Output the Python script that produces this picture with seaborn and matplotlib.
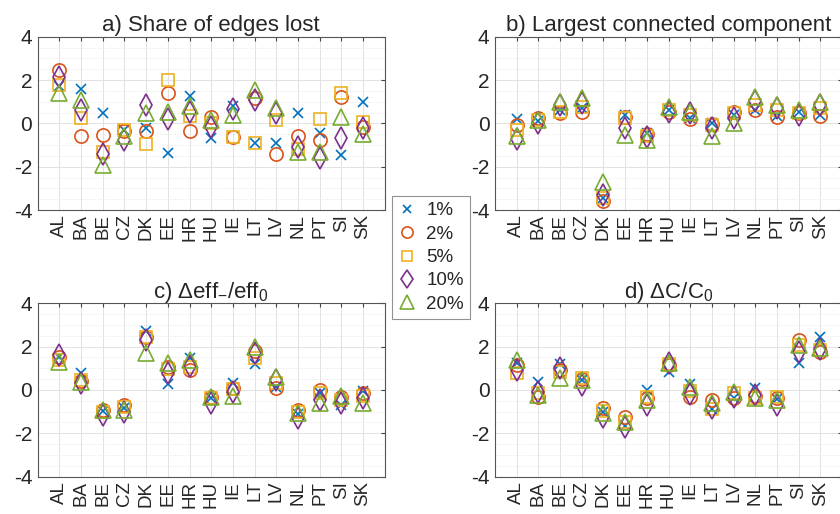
import numpy as np
import pandas as pd
import matplotlib
matplotlib.use("Agg")
import matplotlib.pyplot as plt
from matplotlib.ticker import MultipleLocator
import seaborn as sns

countries = ["AL", "BA", "BE", "CZ", "DK", "EE", "HR", "HU", "IE", "LT", "LV", "NL", "PT", "SI", "SK"]
levels = ["1%", "2%", "5%", "10%", "20%"]

# a) Share of edges lost
edges_1 = [1.72, 1.6, 0.49, -0.3, -0.23, -1.38, 1.26, -0.66, 0.8, -0.9, -0.92, 0.49, -0.43, -1.46, 1.0]
edges_2 = [2.46, -0.58, -0.54, -0.35, -0.35, 1.38, -0.35, 0.28, -0.62, 1.15, -1.43, -0.58, -0.77, 1.23, -0.18]
edges_5 = [1.77, 0.23, -1.3, -0.3, -0.97, 2.0, 0.34, 0.03, -0.65, -0.9, 0.15, -1.2, 0.18, 1.38, 0.08]
edges_10 = [2.15, 0.62, -1.42, -0.77, 0.85, 0.18, 0.54, -0.15, 0.65, 1.08, 0.46, -1.1, -1.62, -0.69, -0.23]
edges_20 = [1.38, 1.08, -1.92, -0.58, 0.49, 0.54, 0.8, 0.15, 0.38, 1.54, 0.69, -1.3, -1.3, 0.28, -0.49]

# b) Largest connected component
lcc_1 = [0.18, 0.12, 0.6, 0.69, -3.46, 0.38, -0.46, 0.6, 0.23, 0.0, 0.38, 0.6, 0.34, 0.54, 0.38]
lcc_2 = [-0.08, 0.23, 0.46, 0.54, -3.6, 0.3, -0.49, 0.54, 0.18, -0.03, 0.54, 0.6, 0.28, 0.49, 0.34]
lcc_5 = [-0.3, 0.15, 0.54, 0.77, -3.46, 0.23, -0.58, 0.6, 0.38, -0.08, 0.46, 0.85, 0.6, 0.49, 0.69]
lcc_10 = [-0.7, 0.0, 0.85, 0.95, -3.3, -0.23, -0.62, 0.54, 0.46, -0.23, 0.23, 1.05, 0.69, 0.38, 0.85]
lcc_20 = [-0.58, 0.15, 1.0, 1.15, -2.7, -0.54, -0.77, 0.77, 0.54, -0.58, 0.03, 1.23, 0.85, 0.6, 1.0]

# c) delta eff / eff0
eff_1 = [1.54, 0.8, -0.95, -0.85, 2.74, 0.28, 1.46, -0.38, 0.31, 1.2, 0.15, -1.1, -0.15, -0.69, -0.05]
eff_2 = [1.54, 0.43, -0.92, -0.69, 2.46, 1.05, 0.92, -0.31, 0.08, 1.82, 0.08, -0.92, 0.0, -0.31, -0.15]
eff_5 = [1.38, 0.46, -1.0, -0.77, 2.46, 0.95, 1.08, -0.38, 0.03, 1.46, 0.31, -1.0, -0.12, -0.46, -0.28]
eff_10 = [1.62, 0.31, -1.15, -1.0, 2.3, 0.8, 1.1, -0.62, -0.08, 1.69, 0.46, -1.3, -0.46, -0.62, -0.38]
eff_20 = [1.3, 0.38, -0.92, -0.92, 1.69, 1.23, 1.38, -0.31, -0.28, 1.97, 0.58, -1.05, -0.58, -0.28, -0.62]

# d) delta C / C0
clu_1 = [1.23, 0.38, 1.2, 0.46, -1.0, -1.66, 0.0, 0.85, 0.28, -0.9, -0.38, 0.08, -0.43, 1.23, 2.46]
clu_2 = [1.15, -0.31, 0.92, 0.49, -0.85, -1.26, -0.38, 1.15, -0.31, -0.46, -0.38, -0.28, -0.38, 2.3, 1.77]
clu_5 = [0.77, -0.15, 0.85, 0.54, -0.95, -1.46, -0.34, 1.2, -0.03, -0.9, -0.15, -0.38, -0.31, 2.08, 1.85]
clu_10 = [0.92, -0.08, 1.0, 0.23, -1.23, -1.69, -0.69, 1.23, -0.18, -0.85, -0.31, -0.23, -0.69, 1.77, 1.88]
clu_20 = [1.38, -0.23, 0.54, 0.46, -1.05, -1.5, -0.46, 1.26, 0.15, -0.62, -0.08, -0.38, -0.46, 2.08, 1.92]

titles = ["a) Share of edges lost", "b) Largest connected component",
          r"c) $\Delta$eff$_{-}$/eff$_{0}$", r"d) $\Delta$C/C$_{0}$"]
panels = [[edges_1, edges_2, edges_5, edges_10, edges_20],
          [lcc_1, lcc_2, lcc_5, lcc_10, lcc_20],
          [eff_1, eff_2, eff_5, eff_10, eff_20],
          [clu_1, clu_2, clu_5, clu_10, clu_20]]

colors = ["#0072BD", "#D95319", "#EDB120", "#7E2F8E", "#77AC30"]
markers = ["x", "o", "s", "d", "^"]
msizes = [7.5, 9.5, 8.5, 11, 11.5]

sns.set_style("white")
plt.rcParams["font.family"] = ["Liberation Sans", "DejaVu Sans"]
plt.rcParams["mathtext.fontset"] = "custom"
plt.rcParams["mathtext.rm"] = "Liberation Sans"
plt.rcParams["mathtext.it"] = "Liberation Sans"
plt.rcParams["axes.unicode_minus"] = False

fig = plt.figure(figsize=(8.4, 5.14), dpi=100)
W, H = 840.0, 514.0
boxes = [(37.7, 36.7), (495, 36.7), (37.7, 303.3), (495, 303.3)]
aw, ah = 347.0, 173.3

handles = []
for k, (series, title) in enumerate(zip(panels, titles)):
    x0, y0 = boxes[k]
    ax = fig.add_axes([x0 / W, 1 - (y0 + ah) / H, aw / W, ah / H])
    for j, vals in enumerate(series):
        df = pd.DataFrame({"country": countries, "value": vals})
        kw = dict(markersize=msizes[j], markeredgewidth=1.2)
        if markers[j] != "x":
            kw["markerfacecolor"] = "none"
        sns.pointplot(data=df, x="country", y="value", order=countries,
                      color=colors[j], markers=markers[j], linestyles="none",
                      errorbar=None, ax=ax, **kw)
        if k == 0:
            handles.append(ax.lines[-1])
    ax.set_xlim(-1, 15)
    ax.set_ylim(-4, 4)
    ax.set_xticks(range(len(countries)))
    ax.set_xticklabels(countries, rotation=90, fontsize=13.5)
    ax.yaxis.set_major_locator(MultipleLocator(2))
    ax.yaxis.set_minor_locator(MultipleLocator(0.5))
    ax.tick_params(axis="y", labelsize=15, pad=4)
    ax.tick_params(axis="x", pad=3)
    ax.tick_params(which="both", direction="in", length=3, top=True, right=True,
                   color="#444444")
    ax.tick_params(which="minor", length=0)
    ax.set_axisbelow(True)
    ax.grid(True, which="major", color="#e2e2e2", linewidth=0.7)
    ax.grid(True, which="minor", axis="y", color="#e6e6e6", linestyle=":", linewidth=0.7)
    for sp in ax.spines.values():
        sp.set_visible(True)
        sp.set_color("#555555")
        sp.set_linewidth(0.8)
    ax.set_xlabel("")
    ax.set_ylabel("")
    ax.set_title(title, fontsize=16, pad=4)

leg = fig.legend(handles, levels, loc="center", bbox_to_anchor=(431 / W, 1 - 257.5 / H),
                 fontsize=13.5, frameon=True, fancybox=False, handlelength=1.0,
                 handletextpad=0.5, borderpad=0.35, labelspacing=0.33, markerscale=0.85)
leg.get_frame().set_edgecolor("#777777")
leg.get_frame().set_linewidth(0.8)

fig.savefig("out.png", dpi=100)
